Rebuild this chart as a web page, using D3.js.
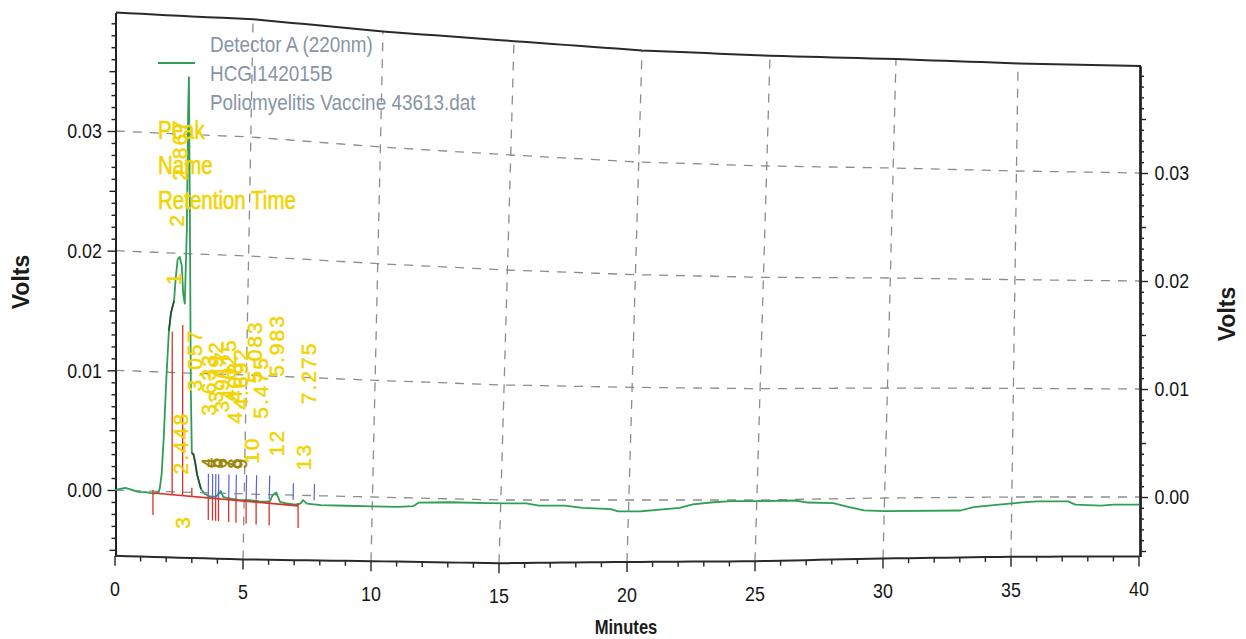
<!DOCTYPE html>
<html>
<head>
<meta charset="utf-8" />
<title>Detector A (220nm) chromatogram</title>
<script src="https://d3js.org/d3.v7.min.js"></script>
<style>
  body { margin: 0; background: #fff; }
  text { font-family: "Liberation Sans", Arial, sans-serif; }
  .tick text { font-size: 21px; fill: #161616; }
  .tick line { stroke: #222; stroke-width: 1.4; }
  .grid { fill: none; stroke: #8c8c8c; stroke-width: 1.3; stroke-dasharray: 9 8; }
  .frame { fill: none; stroke: #2a2a2a; stroke-width: 2; }
  .peak { font-size: 21px; fill: #f2d400; stroke: #f2d400; stroke-width: 0.5; letter-spacing: 2px; }
</style>
</head>
<body>
<div id="chart"></div>
<script>
// trace: minutes / volts
const traceTime = [0, 0.2, 0.4, 0.6, 0.9, 1.2, 1.5, 1.7, 1.75, 1.82, 1.9, 2.0, 2.1, 2.18, 2.3, 2.36, 2.44, 2.52, 2.6, 2.66, 2.72,
  2.8, 2.85, 2.88, 2.92, 2.96, 3.0, 3.06, 3.12, 3.2, 3.35, 3.5, 3.7, 3.9, 4.02, 4.1, 4.2, 4.4, 4.8, 5.2, 5.6, 6.0, 6.12, 6.25,
  6.4, 6.6, 7.0, 7.2, 7.3, 7.45, 8, 9, 10, 11, 11.6, 11.8, 13, 14.5, 16, 16.5, 17.5, 18.2, 19.3, 19.6, 20.5, 21, 22, 22.5,
  23.3, 24, 25, 26.5, 27, 28, 28.5, 29.2, 30, 33, 33.5, 34.5, 35.4, 36, 37.2, 37.5, 38.5, 39, 40];
const traceVolt = [0.0000, 0.0001, 0.0002, 0.0001, -0.0001, -0.0001, -0.0002, -0.0001, 0.0003, 0.0015, 0.0045, 0.0095, 0.0135,
  0.0150, 0.0160, 0.0178, 0.0195, 0.0197, 0.0190, 0.0166, 0.0158, 0.0220, 0.0320, 0.0348, 0.0230, 0.0085, 0.0033, 0.0032,
  0.0026, 0.0015, 0.0003, -0.0001, -0.0003, -0.0003, -0.0001, 0.0002, -0.0003, -0.0004, -0.0005, -0.0005, -0.0006, -0.0006,
  0.0000, 0.0002, -0.0006, -0.0007, -0.0008, -0.0007, -0.0004, -0.0007, -0.0008, -0.0008, -0.0008, -0.0008, -0.0007, -0.0004,
  -0.0003, -0.0003, -0.0003, -0.0005, -0.0005, -0.0007, -0.0008, -0.0010, -0.0010, -0.0009, -0.0007, -0.0004, -0.0002,
  -0.0001, -0.0001, -0.0001, -0.0003, -0.0004, -0.0007, -0.0011, -0.0012, -0.0012, -0.0009, -0.0007, -0.0005, -0.0004,
  -0.0004, -0.0007, -0.0008, -0.0007, -0.0007];
// parts of the trace printed darker
const darkWindows = [[2.06, 2.32], [2.98, 3.45]];

// integration baseline, drop lines and event marks
const baselineTime = [1.48, 7.11];
const baselineVolt = [-0.00015, -0.0009];
const dropTime = [2.23, 2.64, 3.0];
const dropVolt = [0.0134, 0.0140, 0.0004];
const endMarkTime = [1.48, 3.63, 3.79, 3.91, 4.02, 4.41, 4.69, 5.08, 5.47, 5.98, 7.11];
const startMarkTime = [3.63, 3.79, 3.91, 4.02, 4.41, 4.69, 5.08, 5.47, 5.98, 6.91, 7.73];
const startMarkTop = [0.0016, 0.0016, 0.0016, 0.0016, 0.0016, 0.0016, 0.0016, 0.0016, 0.0016, 0.0010, 0.0010];

// peak annotations (text, minutes, volts)
const labelText = ["2.867", "2", "1", "3.057", "2.448", "3", "3.633", "3.792", "3.917", "4.025", "4.408", "4.692",
  "5.083", "5.475", "5.983", "7.275", "10", "12", "13"];
const labelTime = [2.5, 2.38, 2.27, 3.09, 2.58, 2.66, 3.63, 3.87, 4.10, 4.34, 4.57, 4.80, 5.31, 5.55, 6.17, 7.42, 5.27, 6.21, 7.30];
const labelVolt = [0.0287, 0.0228, 0.0179, 0.0111, 0.0041, -0.0025, 0.0091, 0.0102, 0.0094, 0.0104, 0.0085, 0.0097,
  0.0120, 0.0090, 0.0126, 0.0104, 0.0037, 0.0044, 0.0033];
const numberText = ["4", "5", "6", "7", "8", "9"];
const numberTime = [3.63, 3.87, 4.10, 4.34, 4.61, 4.84];
const numberVolt = [0.0026, 0.0026, 0.0026, 0.0026, 0.0026, 0.0026];

const xTicks = [0, 5, 10, 15, 20, 25, 30, 35, 40];
const yTicks = [0, 0.01, 0.02, 0.03];
const legendLines = ["Detector A (220nm)", "HCGI142015B", "Poliomyelitis Vaccine 43613.dat"];
const tableHeads = ["Peak", "Name", "Retention Time"];

const width = 1246, height = 639;
const vMin = -0.0055, vMax = 0.0399;
const narrow = 0.85; // printout uses a condensed face

const svg = d3.select("#chart").append("svg")
  .attr("width", width)
  .attr("height", height);

// the printout is photographed at a slant: the page is mapped through these
const x = d3.scaleLinear().domain([0, 40]).range([115, 1139]);
const xTop = d3.scaleLinear().domain([0, 3, 5, 10, 15, 20, 25, 30, 35, 40])
  .range([116, 192, 253, 383, 514, 642, 770, 896, 1018, 1141]);
const zeroRow = d3.scaleLinear().domain(xTicks).range([490, 494, 497, 500, 500, 500, 498, 497, 497]);
const row03 = d3.scaleLinear().domain(xTicks).range([131, 137, 147, 155, 162, 166, 168, 171, 173]);
const lift = d3.scaleLinear().domain([vMin, vMax]).range([0, 1]);

function P(t, v) {
  const f = lift(v);
  const z = zeroRow(t);
  return [x(t) + (xTop(t) - x(t)) * f, z + (row03(t) - z) * v / 0.03];
}
const yLeft = d3.scaleLinear().domain([vMin, vMax]).range([P(0, vMin)[1], P(0, vMax)[1]]);
const yRight = d3.scaleLinear().domain([vMin, vMax]).range([P(40, vMin)[1], P(40, vMax)[1]]);

const path = d3.line().x(d => P(d[0], d[1])[0]).y(d => P(d[0], d[1])[1]);
const along = d3.range(0, 40.01, 0.5);

// grid
const grid = svg.append("g");
yTicks.forEach(v => {
  grid.append("path").attr("class", "grid").attr("d", path(along.map(t => [t, v])));
});
xTicks.slice(1, -1).forEach(t => {
  grid.append("path").attr("class", "grid").attr("d", path([[t, vMin], [t, vMax]]));
});

// frame top
svg.append("path").attr("class", "frame").attr("d", path(along.map(t => [t, vMax])));

// left and right axes
const minorV = d3.range(-5, 40).map(i => i / 1000).filter(v => Math.round(v * 1000) % 5 !== 0);
const midV = [-0.005, 0.005, 0.015, 0.025, 0.035];
function yAxes(axisFn, scale, xPos, pad) {
  const g = svg.append("g").attr("transform", `translate(${xPos},0)`);
  g.append("g").call(axisFn(scale).tickValues(minorV).tickSize(4).tickSizeOuter(0).tickFormat(""));
  g.append("g").call(axisFn(scale).tickValues(midV).tickSize(6).tickSizeOuter(0).tickFormat(""));
  const major = g.append("g").call(axisFn(scale).tickValues(yTicks).tickSize(8).tickPadding(pad).tickSizeOuter(0)
    .tickFormat(d3.format(".2f")));
  major.selectAll(".tick text").attr("transform", `scale(${narrow},1)`);
  g.selectAll(".domain").attr("stroke", "#222").attr("stroke-width", 2);
}
yAxes(d3.axisLeft, yLeft, 115.5, 8);
yAxes(d3.axisRight, yRight, 1140, 9);

// bottom axis, ticks moved onto the slanted bottom edge
function bottomAxis(values, size, fmt) {
  const g = svg.append("g").call(d3.axisBottom(x).tickValues(values).tickSize(size).tickPadding(15).tickFormat(fmt));
  g.select(".domain").remove();
  g.selectAll(".tick").attr("transform", d => `translate(${P(d, vMin)})`);
  g.selectAll(".tick text").attr("transform", `scale(${narrow},1)`);
}
bottomAxis(d3.range(0, 41).filter(t => t % 5 !== 0), 5, "");
bottomAxis(xTicks, 10, d3.format("d"));
svg.append("path").attr("class", "frame").attr("d", path(along.map(t => [t, vMin])));

// trace
const trace = traceTime.map((t, i) => [t, traceVolt[i]]);
svg.append("path")
  .attr("fill", "none")
  .attr("stroke", "#2f9e57")
  .attr("stroke-width", 1.8)
  .attr("stroke-linejoin", "round")
  .attr("d", path(trace));
darkWindows.forEach(([a, b]) => {
  svg.append("path")
    .attr("fill", "none")
    .attr("stroke", "#2c4630")
    .attr("stroke-width", 1.6)
    .attr("d", path(trace.filter(d => d[0] >= a && d[0] <= b)));
});

// baseline and event marks
const baseV = d3.scaleLinear().domain(baselineTime).range(baselineVolt);
svg.append("path")
  .attr("fill", "none")
  .attr("stroke", "#d8332b")
  .attr("stroke-width", 1.7)
  .attr("d", path(baselineTime.map((t, i) => [t, baselineVolt[i]])));
dropTime.forEach((t, i) => {
  svg.append("path").attr("stroke", "#d8332b").attr("stroke-width", 1.3)
    .attr("d", path([[t, baseV(t)], [t, dropVolt[i]]]));
});
endMarkTime.forEach(t => {
  const p = P(t, baseV(t));
  svg.append("line").attr("stroke", "#d8332b").attr("stroke-width", 1.3)
    .attr("x1", p[0]).attr("y1", p[1] - 3).attr("x2", p[0]).attr("y2", p[1] + 22);
});
startMarkTime.forEach((t, i) => {
  svg.append("path").attr("stroke", "#5a64d6").attr("stroke-width", 1.2)
    .attr("d", path([[t, -0.0004], [t, startMarkTop[i]]]));
});

// peak annotations
const ann = svg.append("g");
labelText.forEach((s, i) => {
  ann.append("text").attr("class", "peak")
    .attr("transform", `translate(${P(labelTime[i], labelVolt[i])}) rotate(-90)`)
    .attr("text-anchor", "middle").attr("dy", "0.35em")
    .text(s);
});
numberText.forEach((s, i) => {
  ann.append("text").attr("class", "peak")
    .style("fill", "#9a8508").style("stroke", "#9a8508").style("font-size", "18px")
    .attr("transform", `translate(${P(numberTime[i], numberVolt[i])}) rotate(-90)`)
    .attr("text-anchor", "middle").attr("dy", "0.35em")
    .text(s);
});
tableHeads.forEach((s, i) => {
  ann.append("text")
    .attr("transform", `translate(158,${139 + i * 35}) scale(0.82,1)`)
    .attr("fill", "#f2d400").attr("stroke", "#f2d400").attr("stroke-width", 0.6)
    .attr("font-size", 25)
    .text(s);
});

// legend
svg.append("line").attr("x1", 158).attr("x2", 195).attr("y1", 63).attr("y2", 63)
  .attr("stroke", "#2f9e57").attr("stroke-width", 2);
legendLines.forEach((s, i) => {
  svg.append("text")
    .attr("transform", `translate(210,${52 + i * 29}) scale(0.86,1)`)
    .attr("fill", "#8795a6").attr("font-size", 22)
    .text(s);
});

// axis titles
svg.append("text").attr("transform", "translate(626,634) scale(0.83,1)").attr("text-anchor", "middle")
  .attr("font-size", 20).attr("font-weight", "bold").attr("fill", "#1b1b1b").text("Minutes");
[[21, 282], [1227, 314]].forEach(([cx, cy]) => {
  svg.append("text").attr("transform", `translate(${cx},${cy}) rotate(-90)`)
    .attr("text-anchor", "middle").attr("dy", "0.35em")
    .attr("font-size", 23).attr("font-weight", "bold").attr("fill", "#1b1b1b").text("Volts");
});
</script>
</body>
</html>
